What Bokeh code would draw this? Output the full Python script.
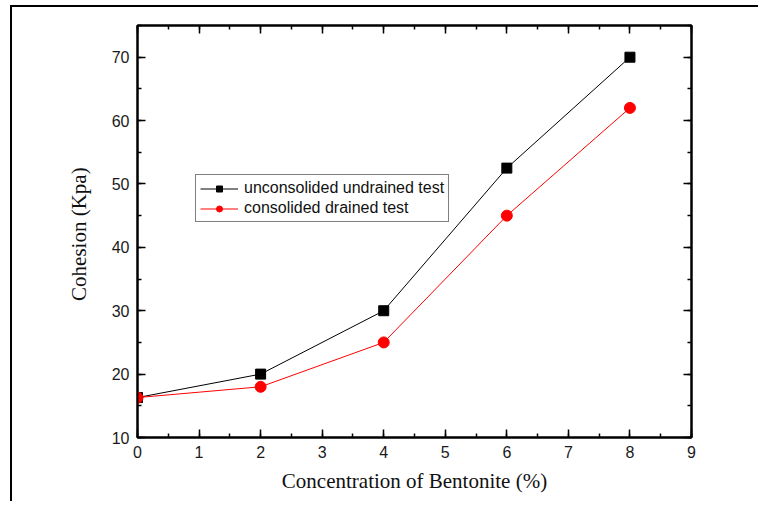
from bokeh.plotting import figure
from bokeh.models import Range1d, LinearAxis, SingleIntervalTicker, FixedTicker, Legend, LegendItem
from bokeh.embed import file_html
from bokeh.resources import INLINE

concentration = [0, 2, 4, 6, 8]
uu_test = [16.3, 20, 30, 52.5, 70]
cd_test = [16.3, 18, 25, 45, 62]
uu_label = "unconsolided undrained test"
cd_label = "consolided drained test"
x_title = "Concentration of Bentonite (%)"
y_title = "Cohesion  (Kpa)"

W, H = 748, 496
p = figure(width=W, height=H, output_backend="svg", toolbar_location=None,
           x_range=Range1d(0, 9), y_range=Range1d(10, 75),
           min_border_left=125, min_border_top=18,
           min_border_right=W - 679, min_border_bottom=H - 430,
           x_axis_location=None, y_axis_location=None)
p.styles = {"border-left": "2px solid black", "border-top": "2px solid black",
            "margin-left": "10px", "margin-top": "5px"}
p.grid.visible = False
p.outline_line_color = "black"
p.outline_line_width = 2
p.background_fill_color = "white"
p.border_fill_color = "white"

def make_axis(kind, show_labels):
    ticker = SingleIntervalTicker(interval=1 if kind == "x" else 10, num_minor_ticks=2)
    ax = LinearAxis(ticker=ticker)
    ax.axis_line_width = 2
    ax.axis_line_color = "black"
    ax.major_tick_in = 8
    ax.major_tick_out = 0
    ax.minor_tick_in = 4
    ax.minor_tick_out = 0
    ax.major_tick_line_width = 1.5
    ax.minor_tick_line_width = 1.5
    ax.major_label_text_font = "Liberation Sans"
    ax.major_label_text_font_size = "16px"
    ax.major_label_text_color = "#1a1a1a" if show_labels else None
    ax.major_label_standoff = 8
    return ax

def title_axis(label, bounds, standoff):
    ax = LinearAxis(ticker=FixedTicker(ticks=[]), bounds=bounds)
    ax.axis_line_color = None
    ax.major_tick_line_color = None
    ax.minor_tick_line_color = None
    ax.major_label_text_font_size = "0px"
    ax.major_tick_in = 0
    ax.major_tick_out = 0
    ax.minor_tick_in = 0
    ax.minor_tick_out = 0
    ax.major_label_standoff = 0
    ax.axis_label = label
    ax.axis_label_text_font = "Liberation Serif"
    ax.axis_label_text_font_size = "21px"
    ax.axis_label_text_font_style = "normal"
    ax.axis_label_text_color = "#111111"
    ax.axis_label_standoff = standoff
    return ax

p.add_layout(make_axis("x", True), "below")
p.add_layout(title_axis(x_title, (0.32, 9), 8), "below")
p.add_layout(make_axis("x", False), "above")
p.add_layout(make_axis("y", True), "left")
p.add_layout(title_axis(y_title, (10, 68.4), 18), "left")
p.add_layout(make_axis("y", False), "right")

l1 = p.line(concentration, uu_test, line_color="black", line_width=1)
s1 = p.scatter(concentration, uu_test, marker="square", size=10, color="black")
l2 = p.line(concentration, cd_test, line_color="red", line_width=1)
s2 = p.scatter(concentration, cd_test, marker="circle", size=11, color="red")

legend = Legend(items=[LegendItem(label=uu_label, renderers=[l1, s1]),
                       LegendItem(label=cd_label, renderers=[l2, s2])],
                location=(58, 215))
legend.label_text_font = "Liberation Sans"
legend.label_text_font_size = "16px"
legend.label_text_color = "#111111"
legend.glyph_width = 38
legend.glyph_height = 15
legend.label_height = 15
legend.spacing = 2
legend.padding = 4
legend.margin = 0
legend.label_standoff = 6
legend.border_line_color = "black"
legend.border_line_width = 1
legend.background_fill_color = "white"
legend.background_fill_alpha = 1
p.add_layout(legend, "center")

open("out.html", "w").write(file_html(p, INLINE))
